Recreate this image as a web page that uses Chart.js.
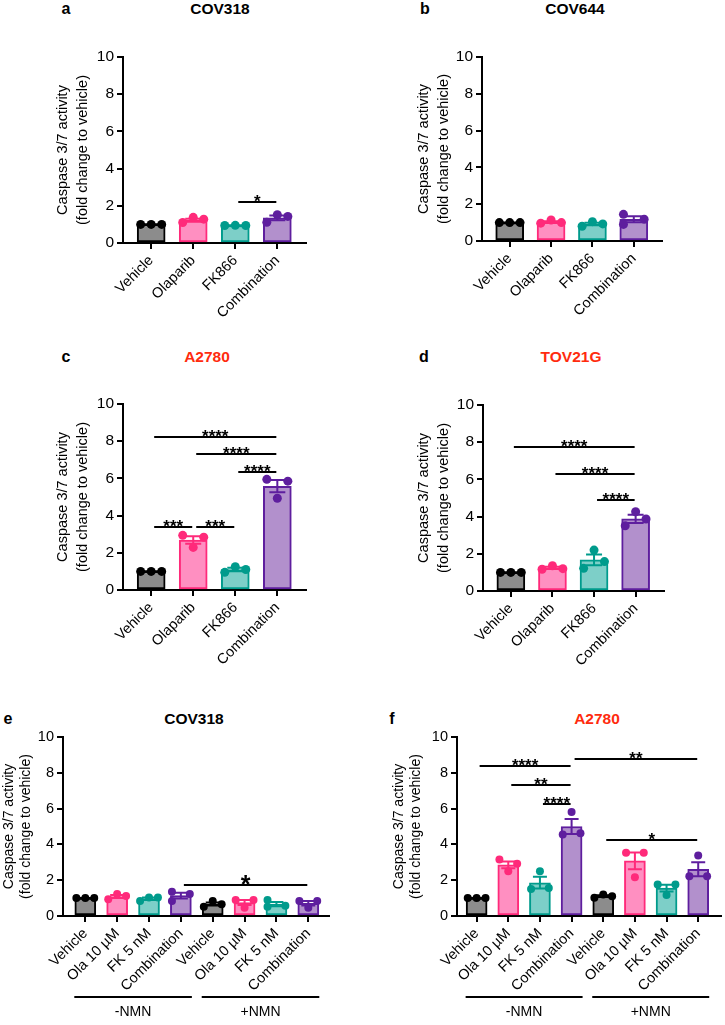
<!DOCTYPE html>
<html><head><meta charset="utf-8">
<script src="https://cdn.jsdelivr.net/npm/chart.js@4.4.1/dist/chart.umd.min.js"></script>
<style>
html,body{margin:0;padding:0;background:#fff;}
body{width:725px;height:1025px;position:relative;overflow:hidden;font-family:"Liberation Sans",Arial,sans-serif;}
canvas{position:absolute;}
.t{position:absolute;font-weight:bold;font-size:15.5px;transform:translate(-50%,-50%);white-space:nowrap;color:#000;}
.red{color:#ff2b0e;}
.l{font-size:16px;}
</style></head><body>
<div class="t l" style="left:66px;top:9px">a</div>
<div class="t" style="left:220px;top:9px">COV318</div>
<div class="t l" style="left:425px;top:9px">b</div>
<div class="t" style="left:575px;top:9px">COV644</div>
<div class="t l" style="left:66px;top:357px">c</div>
<div class="t red" style="left:207px;top:357px">A2780</div>
<div class="t l" style="left:424px;top:357px">d</div>
<div class="t red" style="left:571px;top:357px">TOV21G</div>
<div class="t l" style="left:8px;top:719px">e</div>
<div class="t" style="left:194px;top:719px">COV318</div>
<div class="t l" style="left:392px;top:719px">f</div>
<div class="t red" style="left:597px;top:719px">A2780</div>
<script>
// ---------- data ----------
const labels4 = ['Vehicle', 'Olaparib', 'FK866', 'Combination'];
const labels8 = ['Vehicle', 'Ola 10 µM', 'FK 5 nM', 'Combination', 'Vehicle', 'Ola 10 µM', 'FK 5 nM', 'Combination'];
const nmnGroups = ['-NMN', '+NMN'];
const yTickValues = [0, 2, 4, 6, 8, 10];
const yTitle = ['Caspase 3/7 activity', '(fold change to vehicle)'];

// panel a: COV318
const aMeans = [1.0, 1.22, 0.94, 1.35];
const aSem = [0.01, 0.08, 0.02, 0.13];
const aReps = [[1.0, 1.0, 1.0], [1.1, 1.38, 1.28], [0.94, 0.95, 0.94], [1.11, 1.52, 1.43]];
const aSig = [{ from: 2, to: 3, y: 2.2, text: '*' }];

// panel b: COV644
const bMeans = [1.0, 1.03, 0.92, 1.18];
const bSem = [0.01, 0.05, 0.07, 0.16];
const bReps = [[1.0, 1.0, 1.0], [0.97, 1.14, 1.0], [0.8, 1.05, 0.93], [1.45, 0.9, 1.18]];
const bSig = [];

// panel c: A2780
const cMeans = [1.0, 2.69, 1.1, 5.58];
const cSem = [0.01, 0.2, 0.09, 0.33];
const cReps = [[1.0, 1.0, 1.0], [2.94, 2.29, 2.84], [0.95, 1.25, 1.1], [5.95, 4.93, 5.85]];
const cSig = [
  { from: 0, to: 3, y: 8.23, text: '****' },
  { from: 1, to: 3, y: 7.3, text: '****' },
  { from: 2, to: 3, y: 6.34, text: '****' },
  { from: 0, to: 1, y: 3.4, text: '***' },
  { from: 1, to: 2, y: 3.4, text: '***' }
];

// panel d: TOV21G
const dMeans = [1.0, 1.24, 1.67, 3.88];
const dSem = [0.01, 0.06, 0.29, 0.22];
const dReps = [[1.0, 1.0, 1.0], [1.17, 1.36, 1.2], [1.22, 2.2, 1.58], [3.51, 4.26, 3.87]];
const dSig = [
  { from: 0, to: 3, y: 7.76, text: '****' },
  { from: 1, to: 3, y: 6.29, text: '****' },
  { from: 2, to: 3, y: 4.89, text: '****' }
];

// panel e: COV318 +/- NMN
const eMeans = [1.0, 1.09, 0.97, 1.14, 0.67, 0.75, 0.66, 0.71];
const eSem = [0.01, 0.09, 0.07, 0.16, 0.09, 0.14, 0.12, 0.13];
const eReps = [[1.0, 1.0, 1.0], [0.93, 1.23, 1.12], [0.84, 1.04, 1.04], [1.36, 0.84, 1.23],
               [0.52, 0.84, 0.65], [0.89, 0.46, 0.89], [0.89, 0.52, 0.57], [0.84, 0.46, 0.84]];
const eSig = [{ from: 3, to: 7, y: 1.75, text: '*' }];

// panel f: A2780 +/- NMN
const fMeans = [1.0, 2.86, 1.86, 5.0, 1.11, 3.08, 1.56, 2.61];
const fSem = [0.01, 0.19, 0.33, 0.42, 0.05, 0.47, 0.19, 0.39];
const fReps = [[1.0, 1.0, 1.0], [3.16, 2.5, 2.92], [1.51, 2.5, 1.57], [4.56, 5.81, 4.62],
               [1.02, 1.2, 1.11], [3.53, 2.17, 3.53], [1.76, 1.17, 1.76], [2.22, 3.38, 2.22]];
const fSig = [
  { from: 0, to: 3, y: 8.39, text: '****' },
  { from: 3, to: 7, y: 8.76, text: '**' },
  { from: 1, to: 3, y: 7.32, text: '**' },
  { from: 2, to: 3, y: 6.28, text: '****' },
  { from: 4, to: 7, y: 4.24, text: '*' }
];

// dot placement within a bar (left / middle / right)
const jitStd = [-1, 0, 1];
const jitPair = [-1, -1, 1];
const aJit = [jitStd, jitStd, jitStd, jitStd];
const bJit = [jitStd, jitStd, jitStd, jitPair];
const cJit = [jitStd, jitStd, jitStd, jitStd];
const dJit = [jitStd, jitStd, jitStd, jitStd];
const eJit = [jitStd, jitStd, jitStd, jitPair, jitStd, jitStd, jitPair, jitStd];
const fJit = [jitStd, jitStd, jitStd, jitStd, jitStd, jitStd, jitStd, jitStd];

// ---------- styles ----------
const fills = ['#8c8c8c', '#ff8fc1', '#7dcfc8', '#b290cc'];
const borders = ['#000000', '#ff2a7a', '#009b8c', '#5e1e9e'];
Chart.defaults.font.family = '"Liberation Sans", Arial, sans-serif';
Chart.defaults.color = '#000';

function makePanel(p) {
  const c = document.createElement('canvas');
  c.width = p.w; c.height = p.h;
  c.style.left = p.left + 'px'; c.style.top = p.top + 'px';
  c.style.width = p.w + 'px'; c.style.height = p.h + 'px';
  document.body.appendChild(c);
  const barData = p.means.map((v, i) => ({ x: i, y: v }));
  const pts = [], pcol = [];
  p.reps.forEach((r, i) => r.forEach((v, j) => {
    pts.push({ x: i + p.jit[i][j] * p.spread, y: v });
    pcol.push(borders[i % 4]);
  }));
  const overlay = {
    id: 'overlay' + p.left + '_' + p.top,
    afterDatasetDraw(chart, args) {
      if (args.index !== 0) return;
      const xs = chart.scales.x, ys = chart.scales.y, ctx = chart.ctx;
      ctx.save();
      ctx.lineWidth = 2;
      p.means.forEach((m, i) => {
        const s = p.sem[i];
        const x = xs.getPixelForValue(i);
        const y1 = ys.getPixelForValue(m + s), y2 = ys.getPixelForValue(m - s);
        ctx.strokeStyle = borders[i % 4];
        ctx.beginPath();
        ctx.moveTo(x, y1); ctx.lineTo(x, y2);
        ctx.moveTo(x - p.cap, y1); ctx.lineTo(x + p.cap, y1);
        ctx.moveTo(x - p.cap, y2); ctx.lineTo(x + p.cap, y2);
        ctx.stroke();
      });
      ctx.restore();
    },
    afterDraw(chart) {
      const xs = chart.scales.x, ys = chart.scales.y, ctx = chart.ctx;
      ctx.save();
      ctx.strokeStyle = '#000'; ctx.fillStyle = '#000'; ctx.lineWidth = 2;
      p.sig.forEach(s => {
        const x1 = xs.getPixelForValue(s.from) + 3, x2 = xs.getPixelForValue(s.to) - 1;
        const y = Math.round(ys.getPixelForValue(s.y));
        ctx.beginPath(); ctx.moveTo(x1, y); ctx.lineTo(x2, y); ctx.stroke();
        ctx.font = 'bold ' + p.starSize + 'px "Liberation Sans", Arial, sans-serif';
        ctx.textAlign = 'center'; ctx.textBaseline = 'alphabetic';
        ctx.fillText(s.text, (x1 + x2) / 2, y + p.starOff);
      });
      if (p.groups) {
        const yb = chart.chartArea.bottom;
        p.groups.forEach((g, k) => {
          const x1 = xs.getPixelForValue(k * 4) - 11, x2 = xs.getPixelForValue(k * 4 + 3) + 11;
          ctx.beginPath(); ctx.moveTo(x1, yb + 81); ctx.lineTo(x2, yb + 81); ctx.stroke();
          ctx.font = '14px "Liberation Sans", Arial, sans-serif';
          ctx.textAlign = 'center'; ctx.textBaseline = 'middle';
          ctx.fillText(g, (x1 + x2) / 2, yb + 96);
        });
      }
      ctx.restore();
    }
  };
  new Chart(c, {
    type: 'bar',
    data: {
      datasets: [
        { type: 'bar', data: barData, backgroundColor: p.means.map((_, i) => fills[i % 4]),
          borderColor: p.means.map((_, i) => borders[i % 4]), borderWidth: 2, borderSkipped: false,
          barThickness: p.barW, order: 2 },
        { type: 'scatter', data: pts, pointBackgroundColor: pcol, pointBorderColor: pcol,
          pointRadius: p.r, pointBorderWidth: 0, order: 1 }
      ]
    },
    options: {
      responsive: false, animation: false, events: [], devicePixelRatio: 1,
      layout: { padding: { top: 17, left: 0, right: 0, bottom: p.padB } },
      plugins: { legend: { display: false }, tooltip: { enabled: false }, title: { display: false } },
      scales: {
        x: {
          type: 'linear', min: p.xmin, max: p.xmax, offset: false,
          grid: { display: true, drawOnChartArea: false, drawTicks: true, tickLength: 6, color: '#000', lineWidth: 2, offset: false },
          border: { display: true, color: '#000', width: 2 },
          afterBuildTicks: ax => { ax.ticks = p.labels.map((_, i) => ({ value: i })); },
          afterFit: ax => { ax.height = p.xH; },
          ticks: { autoSkip: false, minRotation: 45, maxRotation: 45, padding: p.xPad, color: '#000',
                   font: { size: p.xFont }, callback: v => p.labels[v] }
        },
        y: {
          min: 0, max: 10,
          afterBuildTicks: ax => { ax.ticks = yTickValues.map(v => ({ value: v })); },
          afterFit: ax => { ax.width = p.yW; },
          grid: { display: true, drawOnChartArea: false, drawTicks: true, tickLength: 6, color: '#000', lineWidth: 2 },
          border: { display: true, color: '#000', width: 2 },
          ticks: { padding: 3, color: '#000', font: { size: p.yFont } },
          title: { display: true, text: yTitle, color: '#000',
                   font: { size: p.tFont, lineHeight: p.tLH }, padding: { top: p.tPad, bottom: 0 } }
        }
      }
    },
    plugins: [overlay]
  });
}

const big = { barW: 28, r: 4.5, cap: 8, spread: 0.25, xmin: -0.67, xmax: 3.67, xH: 80, padB: 0,
              xFont: 14.5, xPad: 3, yFont: 15.5, tFont: 14.5, tLH: 1.4, starSize: 17, starOff: 4.5 };
makePanel(Object.assign({}, big, { left: 0, top: 40, w: 310, h: 283, yW: 123, tPad: 53,
  labels: labels4, means: aMeans, sem: aSem, reps: aReps, jit: aJit, sig: aSig }));
makePanel(Object.assign({}, big, { left: 360, top: 40, w: 306, h: 281, yW: 122, tPad: 54,
  labels: labels4, means: bMeans, sem: bSem, reps: bReps, jit: bJit, sig: bSig }));
makePanel(Object.assign({}, big, { left: 0, top: 387, w: 310, h: 283, yW: 123, tPad: 53,
  labels: labels4, means: cMeans, sem: cSem, reps: cReps, jit: cJit, sig: cSig }));
makePanel(Object.assign({}, big, { left: 360, top: 388, w: 308, h: 283, yW: 123, tPad: 54,
  labels: labels4, means: dMeans, sem: dSem, reps: dReps, jit: dJit, sig: dSig }));

const small = { barW: 21, r: 4, cap: 7, spread: 0.28, xH: 75, padB: 34, xFont: 14.5, xPad: 3, yFont: 14.5,
                tFont: 14, tLH: 1.25, starSize: 17, starOff: 4.5 };
makePanel(Object.assign({}, small, { left: 0, top: 720, w: 333, h: 305, yW: 63, tPad: 0,
  xmin: -0.7, xmax: 7.65, labels: labels8, means: eMeans, sem: eSem, reps: eReps, jit: eJit,
  sig: eSig, groups: nmnGroups, starSize: 25, starOff: 8 }));
makePanel(Object.assign({}, small, { left: 360, top: 720, w: 365, h: 305, yW: 97, tPad: 30,
  xmin: -0.62, xmax: 7.72, labels: labels8, means: fMeans, sem: fSem, reps: fReps, jit: fJit,
  sig: fSig, groups: nmnGroups }));
</script>
</body></html>
